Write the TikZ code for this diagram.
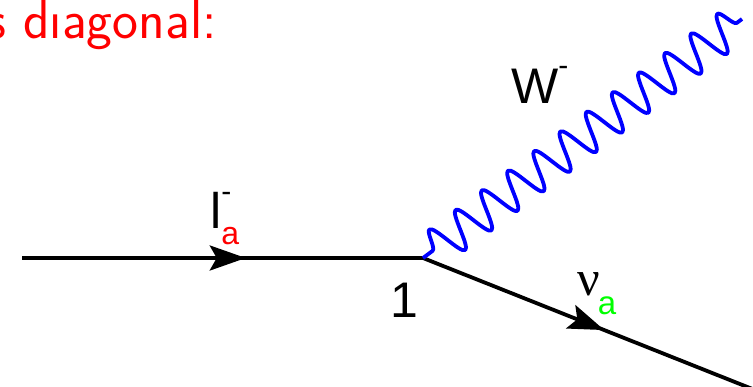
\documentclass[tikz,border=0pt]{standalone}
\usepackage{fontspec}
\newfontfamily\labfont{Liberation Sans}
\newfontfamily\grkfont{Liberation Serif}
\usetikzlibrary{decorations.pathmorphing,decorations.markings,arrows.meta}
\definecolor{pred}{rgb}{1,0,0}
\definecolor{pgreen}{rgb}{0,1,0}
\definecolor{pblue}{rgb}{0,0,1}
\tikzset{
  fermion/.style={line width=3.8pt, black, postaction={decorate},
    decoration={markings, mark=at position #1 with {\arrow{Stealth[length=36pt,width=25pt,inset=7pt]}}}},
  boson/.style={pblue, line width=3.8pt, line join=round, decorate,
    decoration={snake, segment length=32.7pt, amplitude=19pt, pre length=12pt, pre=lineto}},
  lab/.style={inner sep=0pt, anchor=base west, font=\labfont\fontsize{50}{60}\selectfont},
  titletext/.style={inner sep=0pt, anchor=base west, text=pred, font=\sffamily\fontsize{55}{64}\selectfont},
}
\begin{document}
\begin{tikzpicture}[x=1pt,y=-1pt]
\useasboundingbox (0,0) rectangle (753,386);
\coordinate (start) at (22,258);
\coordinate (v) at (423,258);
\coordinate (nuend) at (760,392);
\coordinate (wend) at (742,19);
\draw[fermion=0.558] (start) -- (v);
\draw[fermion=0.538] (v) -- (nuend);
\draw[boson] (v) -- (wend);
\node[titletext] (title) at (-14,38) {s d\i agonal:};
\node[lab] (wlab) at (511,103) {W\raisebox{28pt}{\fontsize{30}{30}\selectfont -}};
\node[lab] (llab) at (210,228) {l\rlap{\raisebox{27pt}{\fontsize{30}{30}\selectfont -}}\raisebox{-16pt}{\fontsize{32}{32}\selectfont\color{pred}a}};
\node[lab] (one) at (390,317) {1};
\node[inner sep=0pt, anchor=base west, font=\grkfont\fontsize{50}{60}\selectfont] (nulab) at (577,295) {ν\kern-2pt\raisebox{-19pt}{\labfont\fontsize{33}{33}\selectfont\color{pgreen}a}};
\end{tikzpicture}
\end{document}
